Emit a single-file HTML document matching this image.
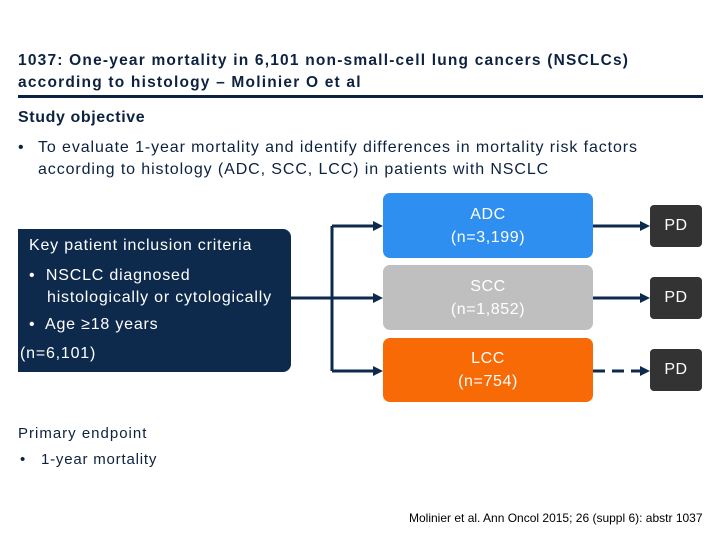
<!DOCTYPE html>
<html><head><meta charset="utf-8"><style>
body{margin:0;width:720px;height:540px;background:#fff;font-family:"Liberation Sans",sans-serif;position:relative;overflow:hidden}
div{position:absolute}
.t{color:#0d2240}
.box{border-radius:7px;color:#fff;text-align:center;font-size:16px;line-height:23px;letter-spacing:0.6px}
.pd{background:#333;border-radius:4px;color:#fff;font-size:16px;text-align:center;line-height:42px;width:52px;height:42px;left:650px;letter-spacing:0.5px}
</style></head><body>
<div class="t" style="left:18px;top:50px;font-size:15.5px;font-weight:bold;line-height:22px;width:700px;white-space:nowrap;letter-spacing:1.2px">1037: One-year mortality in 6,101 non-small-cell lung cancers (NSCLCs)<br>according to histology – Molinier O et al</div>
<div style="left:18px;top:95px;width:685px;height:3px;background:#0d2240"></div>
<div class="t" style="left:18px;top:109px;font-size:16px;font-weight:bold;letter-spacing:0.6px">Study objective</div>
<div class="t" style="left:18px;top:137px;font-size:16px;line-height:22px;width:700px;white-space:nowrap;letter-spacing:0.9px"><span style="position:absolute;left:0">•</span><div style="position:static;margin-left:20px">To evaluate 1-year mortality and identify differences in mortality risk factors<br>according to histology (ADC, SCC, LCC) in patients with NSCLC</div></div>
<div style="left:18px;top:229px;width:273px;height:143px;background:#0d2a4d;border-radius:0 8px 8px 0;color:#fff;font-size:16px;letter-spacing:0.8px;white-space:nowrap">
<div style="left:11px;top:8px">Key patient inclusion criteria</div>
<div style="left:11px;top:36px;line-height:22px;width:270px">•&nbsp; NSCLC diagnosed<br><span style="padding-left:18px">histologically or cytologically</span></div>
<div style="left:11px;top:87px">•&nbsp; Age ≥18 years</div>
<div style="left:2px;top:116px">(n=6,101)</div>
</div>
<svg width="720" height="540" style="position:absolute;left:0;top:0">
<g stroke="#0d2a4d" stroke-width="3" fill="none">
<path d="M291 298H376M332 226V371M332 226H376M332 371H376M593 226H642M593 298H642"/>
<path d="M593 371H642" stroke-dasharray="12 7"/>
</g>
<g fill="#0d2a4d">
<path d="M383 226l-10-5v10zM383 298l-10-5v10zM383 371l-10-5v10zM650 226l-10-5v10zM650 298l-10-5v10zM650 371l-10-5v10z"/>
</g>
</svg>
<div class="box" style="left:383px;top:193px;width:210px;height:65px;background:#2f8ff0"><div style="position:static;padding-top:10px">ADC<br>(n=3,199)</div></div>
<div class="box" style="left:383px;top:265px;width:210px;height:65px;background:#bfbfbf"><div style="position:static;padding-top:10px">SCC<br>(n=1,852)</div></div>
<div class="box" style="left:383px;top:338px;width:210px;height:64px;background:#f76a05"><div style="position:static;padding-top:9px">LCC<br>(n=754)</div></div>
<div class="pd" style="top:205px">PD</div>
<div class="pd" style="top:277px">PD</div>
<div class="pd" style="top:349px">PD</div>
<div class="t" style="left:18px;top:425px;font-size:15px;letter-spacing:1px">Primary endpoint</div>
<div class="t" style="left:20px;top:451px;font-size:15px;letter-spacing:0.8px">•&nbsp;&nbsp; 1-year mortality</div>
<div style="left:409px;top:511px;font-size:12px;color:#000">Molinier et al. Ann Oncol 2015; 26 (suppl 6): abstr 1037</div>
</body></html>
